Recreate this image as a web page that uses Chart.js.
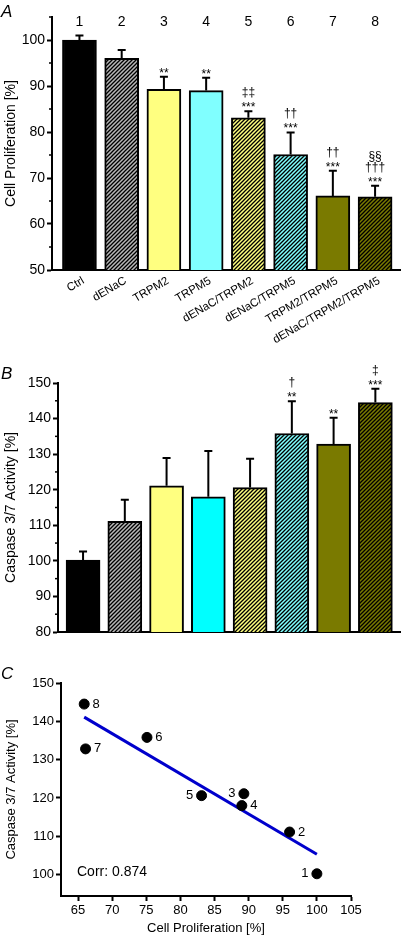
<!DOCTYPE html>
<html>
<head>
<meta charset="utf-8">
<script src="https://cdn.jsdelivr.net/npm/chart.js@4.4.0/dist/chart.umd.min.js"></script>
<style>
  html, body { margin: 0; padding: 0; background: #fff; }
  body { width: 402px; height: 936px; position: relative; overflow: hidden; font-family: "Liberation Sans", Arial, sans-serif; }
  .panel { position: absolute; left: 0; width: 402px; }
  .letter { position: absolute; left: 1px; font-style: italic; font-size: 17px; line-height: 1; }
</style>
</head>
<body>
<div class="panel" style="top:0px;height:350px"><canvas id="chartA" width="402" height="350"></canvas></div>
<div class="panel" style="top:355px;height:294px"><canvas id="chartB" width="402" height="294"></canvas></div>
<div class="panel" style="top:650px;height:286px"><canvas id="chartC" width="402" height="286"></canvas></div>
<div class="letter" style="top:3px">A</div>
<div class="letter" style="top:365px">B</div>
<div class="letter" style="top:665px">C</div>
<script>
// data
const categories = ['Ctrl', 'dENaC', 'TRPM2', 'TRPM5', 'dENaC/TRPM2', 'dENaC/TRPM5', 'TRPM2/TRPM5', 'dENaC/TRPM2/TRPM5'];
const groupNumbers = ['1', '2', '3', '4', '5', '6', '7', '8'];
const proliferation = [100.0, 96.0, 89.3, 89.0, 83.1, 75.1, 66.1, 65.9];
const proliferationErr = [1.0, 1.8, 2.7, 2.8, 1.4, 4.8, 5.5, 2.4];
const caspase = [100.2, 111.1, 121.1, 118.0, 120.6, 135.8, 132.8, 144.5];
const caspaseErr = [2.4, 6.1, 7.8, 12.9, 8.1, 9.1, 7.4, 3.9];
const proliferationMarks = [[], [], ['**'], ['**'], ['***', '‡‡'], ['***', '††'], ['***', '††'], ['***', '†††', '§§']];
const caspaseMarks = [[], [], [], [], [], ['**', '†'], ['**'], ['***', '‡']];
const fitLineX = [65.9, 100.0];
const fitLineY = [141.1, 105.3];
const corrText = 'Corr: 0.874';

const FONT = '"Liberation Sans", Arial, Helvetica, sans-serif';
Chart.defaults.font.family = FONT;
Chart.defaults.color = '#000';
Chart.defaults.animation = false;
Chart.defaults.plugins.legend.display = false;
Chart.defaults.plugins.tooltip.enabled = false;

// diagonal hatch fill
function hatch(base) {
    const c = document.createElement('canvas');
    c.width = 4; c.height = 4;
    const g = c.getContext('2d');
    g.fillStyle = base;
    g.fillRect(0, 0, 4, 4);
    g.strokeStyle = '#000';
    g.lineWidth = 1.3;
    g.beginPath();
    g.moveTo(-1, 5); g.lineTo(5, -1);
    g.moveTo(-1, 1); g.lineTo(1, -1);
    g.moveTo(3, 5); g.lineTo(5, 3);
    g.stroke();
    return g.createPattern(c, 'repeat');
}

const olive = '#7a7a00';
const colorsA = ['#000000', hatch('#b8b8b8'), '#ffff80', '#80ffff', hatch('#ffff80'), hatch('#80ffff'), olive, hatch(olive)];
const colorsB = ['#000000', hatch('#b8b8b8'), '#ffff80', '#00ffff', hatch('#ffff80'), hatch('#80ffff'), olive, hatch(olive)];

// error bars + significance marks
function errorPlugin(values, errors, marks) {
    return {
        id: 'errorBars',
        afterDatasetsDraw(chart) {
            const ctx = chart.ctx, xs = chart.scales.x, ys = chart.scales.y;
            const steps = [0, 15, 26];
            ctx.save();
            ctx.strokeStyle = '#000';
            ctx.lineWidth = 2;
            ctx.fillStyle = '#000';
            ctx.textAlign = 'center';
            ctx.textBaseline = 'alphabetic';
            ctx.font = '12px ' + FONT;
            values.forEach((v, i) => {
                const x = xs.getPixelForValue(i + 1);
                const y0 = ys.getPixelForValue(v);
                const y1 = ys.getPixelForValue(v + errors[i]);
                ctx.beginPath();
                ctx.moveTo(x, y0); ctx.lineTo(x, y1);
                ctx.moveTo(x - 4, y1); ctx.lineTo(x + 4, y1);
                ctx.stroke();
                marks[i].forEach((m, k) => ctx.fillText(m, x, y1 - steps[k]));
            });
            ctx.restore();
        }
    };
}

// short minor ticks between the labelled ones
const minorTicks = {
    id: 'minorTicks',
    afterDraw(chart) {
        const ys = chart.scales.y, ctx = chart.ctx;
        const left = chart.chartArea.left;
        ctx.save();
        ctx.strokeStyle = '#000';
        ctx.lineWidth = 1.5;
        for (let v = ys.min + 5; v <= ys.max + 0.01; v += 10) {
            const y = ys.getPixelForValue(v);
            ctx.beginPath(); ctx.moveTo(left - 3, y); ctx.lineTo(left, y); ctx.stroke();
        }
        ctx.restore();
    }
};

const topNumbers = {
    id: 'topNumbers',
    afterDraw(chart) {
        const xs = chart.scales.x, ctx = chart.ctx;
        ctx.save();
        ctx.fillStyle = '#000';
        ctx.textAlign = 'center';
        ctx.textBaseline = 'middle';
        ctx.font = '14px ' + FONT;
        groupNumbers.forEach((n, i) => ctx.fillText(n, xs.getPixelForValue(i + 1), chart.chartArea.top + 5));
        ctx.restore();
    }
};

function barOptions(xMin, yMin, yMax, yTitle, xHeight, yWidth, showCats) {
    return {
        responsive: false,
        layout: { padding: { left: 0, right: 2, top: 0, bottom: 0 } },
        scales: {
            x: {
                type: 'linear',
                offset: false,
                min: xMin,
                max: 8.59,
                grid: { display: false, drawTicks: false },
                border: { color: '#000', width: 2 },
                ticks: {
                    display: showCats,
                    stepSize: 1,
                    includeBounds: false,
                    autoSkip: false,
                    maxRotation: 30,
                    minRotation: 30,
                    labelOffset: 4,
                    padding: 4,
                    font: { size: 11.5 },
                    callback: v => categories[v - 1] || ''
                },
                afterFit: s => { s.height = xHeight; }
            },
            y: {
                min: yMin,
                max: yMax,
                grid: { drawOnChartArea: false, tickLength: 5, tickWidth: 2, tickColor: '#000' },
                border: { color: '#000', width: 2 },
                ticks: { stepSize: 10, includeBounds: false, padding: 2, font: { size: 14 } },
                title: { display: true, text: yTitle, font: { size: 14 }, padding: { top: 3, bottom: 0 } },
                afterFit: s => { s.width = yWidth; }
            }
        }
    };
}

function barData(values, colors) {
    return {
        datasets: [{
            data: values.map((v, i) => ({ x: i + 1, y: v })),
            backgroundColor: colors,
            borderColor: '#000',
            borderWidth: 2,
            barThickness: 34
        }]
    };
}

// panel A
const optsA = barOptions(0.35, 50, 105, 'Cell Proliferation [%]', 80, 52, true);
optsA.layout.padding.top = 17;
new Chart(document.getElementById('chartA'), {
    type: 'bar',
    data: barData(proliferation, colorsA),
    options: optsA,
    plugins: [errorPlugin(proliferation, proliferationErr, proliferationMarks), minorTicks, topNumbers]
});

// panel B
const optsB = barOptions(0.4, 80, 150, 'Caspase 3/7 Activity [%]', 17, 58, false);
optsB.layout.padding.top = 28;
new Chart(document.getElementById('chartB'), {
    type: 'bar',
    data: barData(caspase, colorsB),
    options: optsB,
    plugins: [errorPlugin(caspase, caspaseErr, caspaseMarks), minorTicks]
});

// panel C
const pointLabels = {
    id: 'pointLabels',
    afterDatasetsDraw(chart) {
        const xs = chart.scales.x, ys = chart.scales.y, ctx = chart.ctx;
        const leftSide = ['1', '3', '5'];
        ctx.save();
        ctx.fillStyle = '#000';
        ctx.textBaseline = 'middle';
        ctx.textAlign = 'center';
        ctx.font = '13px ' + FONT;
        groupNumbers.forEach((n, i) => {
            const dx = leftSide.includes(n) ? -12 : 12;
            ctx.fillText(n, xs.getPixelForValue(proliferation[i]) + dx, ys.getPixelForValue(caspase[i]));
        });
        ctx.textAlign = 'left';
        ctx.font = '14px ' + FONT;
        ctx.fillText(corrText, chart.chartArea.left + 16, chart.chartArea.bottom - 24);
        ctx.restore();
    }
};

new Chart(document.getElementById('chartC'), {
    type: 'scatter',
    data: {
        datasets: [{
            data: proliferation.map((p, i) => ({ x: p, y: caspase[i] })),
            backgroundColor: '#000',
            borderColor: '#000',
            pointRadius: 5
        }, {
            data: fitLineX.map((x, i) => ({ x: x, y: fitLineY[i] })),
            showLine: true,
            borderColor: '#0000cc',
            borderWidth: 3,
            pointRadius: 0
        }]
    },
    options: {
        responsive: false,
        layout: { padding: { left: 0, right: 51, top: 33, bottom: 0 } },
        scales: {
            x: {
                min: 62.5,
                max: 105,
                grid: { drawOnChartArea: false, tickLength: 5, tickWidth: 2, tickColor: '#000' },
                border: { color: '#000', width: 2 },
                ticks: { stepSize: 5, includeBounds: false, padding: 2, font: { size: 13 }, maxRotation: 0 },
                title: { display: true, text: 'Cell Proliferation [%]', font: { size: 13 }, padding: { top: 0, bottom: 0 } },
                afterFit: s => { s.height = 40; }
            },
            y: {
                min: 94.4,
                max: 150,
                grid: { drawOnChartArea: false, tickLength: 5, tickWidth: 2, tickColor: '#000' },
                border: { color: '#000', width: 2 },
                ticks: { stepSize: 10, includeBounds: false, padding: 2, font: { size: 13 } },
                title: { display: true, text: 'Caspase 3/7 Activity [%]', font: { size: 13 }, padding: { top: 4, bottom: 0 } },
                afterFit: s => { s.width = 61; }
            }
        }
    },
    plugins: [pointLabels]
});
</script>
</body>
</html>
